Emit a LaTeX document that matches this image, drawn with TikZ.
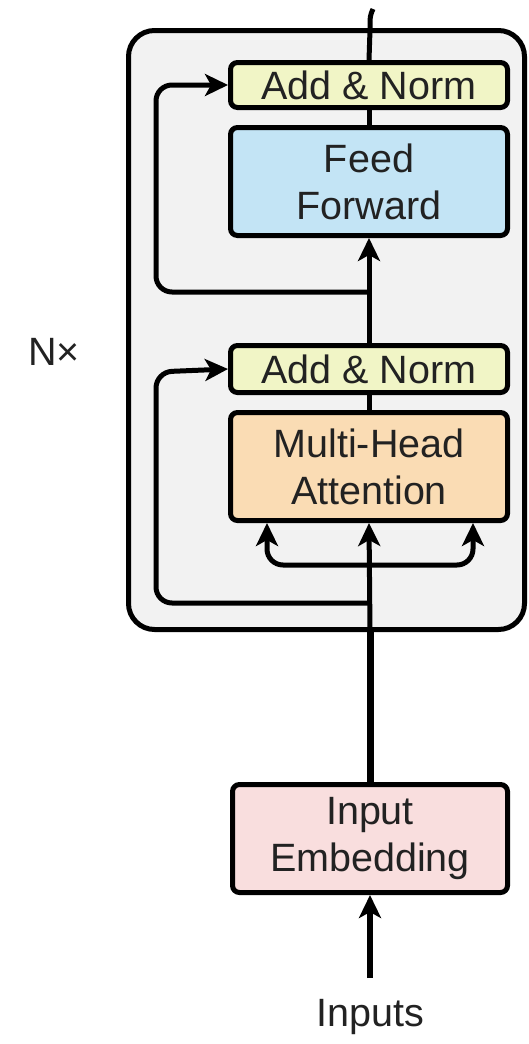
\documentclass[tikz,border=0pt]{standalone}
\usepackage{fontspec}
\setmainfont{Liberation Sans}
\usetikzlibrary{arrows.meta}
\definecolor{outerfill}{HTML}{F2F2F2}
\definecolor{normfill}{HTML}{F1F5C6}
\definecolor{fffill}{HTML}{C3E4F5}
\definecolor{mhafill}{HTML}{FADCB4}
\definecolor{embfill}{HTML}{F9DEDE}
\definecolor{txt}{HTML}{222222}
\tikzset{
  blockbox/.style={draw=black, line width=5pt, rounded corners=7pt, minimum width=277pt,
     inner sep=0pt, align=center, text=txt, font=\fontsize{39.5}{47}\selectfont},
  conn/.style={line width=5pt, draw=black, rounded corners=16pt},
  arr/.style={conn, -{Stealth[length=23pt,width=22pt,inset=6pt]}},
  lbl/.style={text=txt, font=\fontsize{39.5}{47}\selectfont}
}
\begin{document}
\begin{tikzpicture}[x=1pt,y=-1pt]
\useasboundingbox (0,0) rectangle (529,1044);
% outer repeated block
\draw[line width=5pt, fill=outerfill, rounded corners=26pt] (128.5,30.5) rectangle (524.5,629.5);

\node[blockbox, fill=normfill, minimum height=45pt] (an2) at (369,85) {Add \& Norm};
\node[blockbox, fill=fffill, minimum height=108pt] (ff) at (369,181.5) {Feed\\Forward};
\node[blockbox, fill=normfill, minimum height=47pt] (an1) at (369,369) {Add \& Norm};
\node[blockbox, fill=mhafill, minimum height=108pt] (mha) at (369,466.5) {Multi-Head\\Attention};
\node[blockbox, fill=embfill, minimum height=108pt, minimum width=275pt] (emb) at (370,838.5) {Input\\Embedding};

\node[lbl] (nx) at (54,352) {N×};
\node[lbl] (inp) at (370,1017) {Inputs};

\coordinate (top) at (373,9);
\coordinate (inbot) at (370,978);
\coordinate (boxbot) at (370,632);
\coordinate (res2) at (370,292);
\coordinate (res1) at (370,603);
\coordinate (split) at (370,565);

% main path
\draw[line width=5pt] (top) .. controls (370,16) .. (370,30) -- (an2.north);
\draw[conn] (an2.south) -- (ff.north);
\draw[arr] (an1.north) -- (ff.south);
\draw[conn] (an1.south) -- (mha.north);
\draw[line width=7pt] (emb.north) -- (boxbot);
\draw[arr] (boxbot) -- (mha.south);
\draw[line width=6pt, -{Stealth[length=23pt,width=22pt,inset=6pt]}] (inbot) -- (emb.south);

% residual connections
\draw[arr] (res2) -- (156,292) -- (156,85) -- (an2.west);
\draw[arr] (res1) -- (156,603) -- (156,372) -- (an1.west);

% split into attention
\draw[arr] (split) -- (267,565) -- (267,523);
\draw[arr] (split) -- (473,565) -- (473,523);
\end{tikzpicture}
\end{document}
